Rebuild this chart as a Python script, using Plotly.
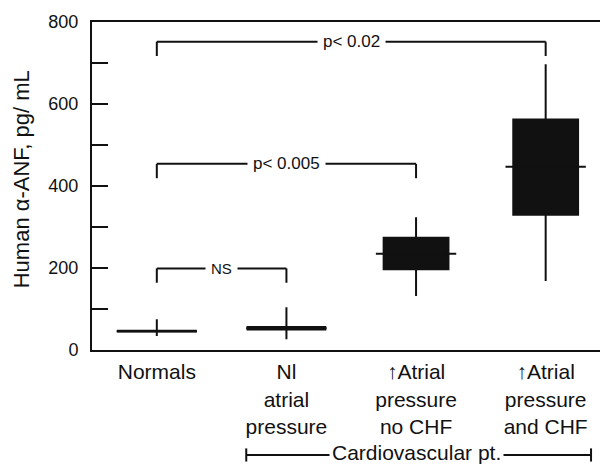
import plotly.graph_objects as go

# ---- data ----
categories = ["Normals", "Nl<br>atrial<br>pressure",
              "<b>↑</b>Atrial<br>pressure<br>no CHF",
              "<b>↑</b>Atrial<br>pressure<br>and CHF"]
positions = [0, 1, 2, 3]
lower_whisker = [34, 26, 132, 168]
q1 = [45, 50, 197, 330]
median = [46, 53, 235, 447]
q3 = [47, 56, 274, 562]
upper_whisker = [75, 104, 324, 697]
box_widths = [0.6, 0.6, 0.5, 0.5]

y_tickvals = list(range(0, 801, 100))
y_ticktext = [str(v) if v % 200 == 0 else "" for v in y_tickvals]

comp_from = [0, 0, 0]
comp_to = [1, 2, 3]
comp_label = ["NS", "p< 0.005", "p< 0.02"]
comp_height = [199, 454, 752]
bracket_drop = 35

group_label = "Cardiovascular pt."
group_span = [0.69, 3.35]

FONT = "Liberation Sans, Arial, Helvetica, sans-serif"
INK = "#111111"

fig = go.Figure()

for i, p in enumerate(positions):
    fig.add_trace(go.Box(
        x=[p], q1=[q1[i]], median=[median[i]], q3=[q3[i]],
        lowerfence=[lower_whisker[i]], upperfence=[upper_whisker[i]],
        width=box_widths[i], whiskerwidth=0,
        fillcolor=INK, line=dict(color=INK, width=2),
        boxpoints=False, hoverinfo="skip", showlegend=False))
    # median tick extending beyond box
    fig.add_trace(go.Scatter(
        x=[p - 0.31, p + 0.31], y=[median[i], median[i]], mode="lines",
        line=dict(color=INK, width=2), hoverinfo="skip", showlegend=False))

shapes = []
annotations = []
for a, b, lab, h in zip(comp_from, comp_to, comp_label, comp_height):
    line = dict(color=INK, width=2)
    shapes.append(dict(type="line", xref="x", yref="y", x0=a, x1=b, y0=h, y1=h, line=line))
    shapes.append(dict(type="line", xref="x", yref="y", x0=a, x1=a, y0=h, y1=h - bracket_drop, line=line))
    shapes.append(dict(type="line", xref="x", yref="y", x0=b, x1=b, y0=h, y1=h - bracket_drop, line=line))
    annotations.append(dict(x=(a + b) / 2, y=h, xref="x", yref="y", text=lab,
                            showarrow=False, bgcolor="white", borderpad=5,
                            font=dict(family=FONT, size=17 if lab != "NS" else 15, color=INK),
                            xanchor="center", yanchor="middle"))

gy = -0.320
line = dict(color=INK, width=2)
shapes.append(dict(type="line", xref="x", yref="paper", x0=group_span[0], x1=group_span[1], y0=gy, y1=gy, line=line))
for gx in group_span:
    shapes.append(dict(type="line", xref="x", yref="paper", x0=gx, x1=gx, y0=gy - 0.02, y1=gy + 0.02, line=line))
annotations.append(dict(x=2, y=gy + 0.006, xref="x", yref="paper", text=group_label,
                        showarrow=False, bgcolor="white", borderpad=2,
                        font=dict(family=FONT, size=21, color=INK),
                        xanchor="center", yanchor="middle"))

annotations.append(dict(x=-0.137, y=0.52, xref="paper", yref="paper",
                        text="Human α-ANF, pg/ mL", textangle=-90, showarrow=False,
                        font=dict(family=FONT, size=22, color=INK),
                        xanchor="center", yanchor="middle"))

# page body has an 8px default margin, so the figure is sized/placed to compensate
fig.update_layout(
    width=600, height=459,
    margin=dict(l=84, r=4, t=8, b=117),
    paper_bgcolor="white", plot_bgcolor="white",
    shapes=shapes, annotations=annotations,
    font=dict(family=FONT, color=INK),
    xaxis=dict(range=[-0.5, 3.45], tickvals=positions, ticktext=categories,
               showline=True, linecolor=INK, linewidth=2, mirror=True,
               ticks="", showgrid=False, zeroline=False, ticklabelstandoff=2,
               tickfont=dict(family=FONT, size=21, color=INK)),
    yaxis=dict(range=[0, 800], tickvals=y_tickvals, ticktext=y_ticktext,
               showline=True, linecolor=INK, linewidth=2,
               ticks="inside", ticklen=16, tickwidth=2, tickcolor=INK,
               showgrid=False, zeroline=False, ticklabelstandoff=8,
               ticklabeloverflow="allow",
               tickfont=dict(family=FONT, size=18, color=INK)),
)

fig.write_html("out.html")
